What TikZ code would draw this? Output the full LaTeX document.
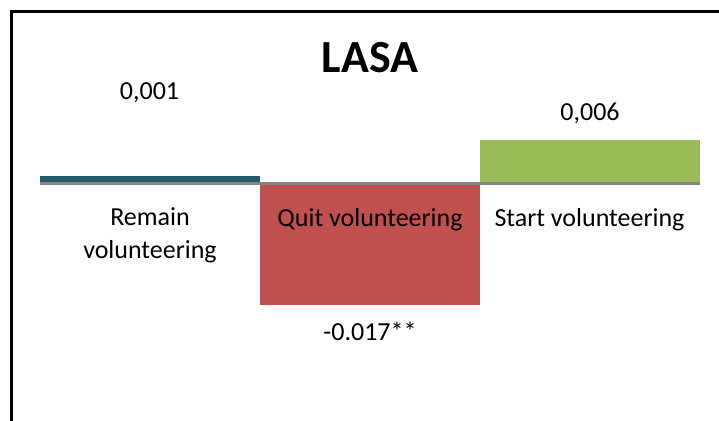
\documentclass[tikz,border=0pt]{standalone}
\usepackage{fontspec}
\setmainfont{Carlito}
\definecolor{barblue}{HTML}{215968}
\definecolor{barred}{HTML}{C0504D}
\definecolor{bargreen}{HTML}{9BBB59}
\definecolor{axisgray}{HTML}{868686}
\begin{document}
\begin{tikzpicture}[x=0.75pt,y=-0.75pt,
  lbl/.style={font=\fontsize{19.5pt}{24.75pt}\selectfont,anchor=base,inner sep=0pt,align=center},
  ttl/.style={font=\fontsize{34.5pt}{40pt}\selectfont\bfseries,anchor=base,inner sep=0pt}]
\useasboundingbox (0,0) rectangle (719,421);
\begin{scope}
\clip (0,0) rectangle (719,421);
\draw[line width=2.4pt] (11.3,11.2) rectangle (760,460);
\end{scope}
% bars
\fill[barblue] (40,176) rectangle (260,182.5);
\fill[bargreen] (480,140) rectangle (700,182.5);
\fill[barred] (260,184.5) rectangle (480,305);
\fill[axisgray] (40,182.3) rectangle (700,184.5);
% text
\node[ttl] (title) at (370,72) {LASA};
\node[lbl] (v1) at (149.5,99) {0,001};
\node[lbl] (v3) at (590,120.5) {0,006};
\node[lbl] (v2) at (370,340) {-0.017**};
\node[lbl,anchor=north] (c1) at (150,207) {Remain\\volunteering};
\node[lbl] (c2) at (370,226) {Quit volunteering};
\node[lbl] (c3) at (589.5,226) {Start volunteering};
\end{tikzpicture}
\end{document}
